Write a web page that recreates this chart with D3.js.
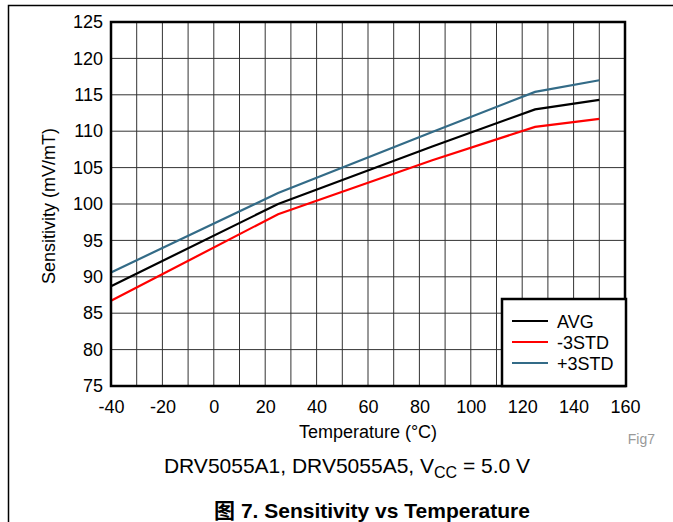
<!DOCTYPE html>
<html><head><meta charset="utf-8">
<script src="https://cdn.jsdelivr.net/npm/d3@7"></script>
<style>body{margin:0;background:#fff}svg{display:block}</style>
</head><body>
<svg id="c" width="673" height="522"></svg>
<script>
const temps = [-40, 25, 85, 125, 150];
const avg = [88.7, 100.0, 107.9, 113.0, 114.3];
const minus3 = [86.7, 98.6, 106.0, 110.6, 111.7];
const plus3 = [90.6, 101.5, 109.9, 115.4, 117.0];
const xTicks = [-40, -20, 0, 20, 40, 60, 80, 100, 120, 140, 160];
const yTicks = [75, 80, 85, 90, 95, 100, 105, 110, 115, 120, 125];
const xGrid = d3.range(-40, 161, 10);
const series = [
  {name: "AVG", values: avg, color: "#000000"},
  {name: "-3STD", values: minus3, color: "#ff0000"},
  {name: "+3STD", values: plus3, color: "#336b87"}
];

const svg = d3.select("#c");
const font = "'Liberation Sans', Arial, sans-serif";
const x = d3.scaleLinear().domain([-40, 160]).range([111, 625]);
const y = d3.scaleLinear().domain([75, 125]).range([386, 22]);

// page frame
svg.append("path").attr("d", "M8.5,522 L8.5,5.5 L673,5.5").attr("fill", "none").attr("stroke", "#000").attr("stroke-width", 1.5);

// grid
svg.append("g").selectAll("line").data(xGrid).join("line")
  .attr("x1", d => x(d)).attr("x2", d => x(d)).attr("y1", y(75)).attr("y2", y(125))
  .attr("stroke", "#333").attr("stroke-width", 1);
svg.append("g").selectAll("line").data(yTicks).join("line")
  .attr("x1", x(-40)).attr("x2", x(160)).attr("y1", d => y(d)).attr("y2", d => y(d))
  .attr("stroke", "#333").attr("stroke-width", 1);

// axes labels via d3 axes
const ax = svg.append("g").attr("transform", `translate(0,${y(75)})`)
  .call(d3.axisBottom(x).tickValues(xTicks).tickSize(0).tickPadding(14).tickFormat(d => String(d)));
ax.select(".domain").remove();
ax.selectAll("text").attr("font-family", font).attr("font-size", 18).attr("fill", "#000");
const ay = svg.append("g").attr("transform", `translate(${x(-40)},0)`)
  .call(d3.axisLeft(y).tickValues(yTicks).tickSize(0).tickPadding(8).tickFormat(d => String(d)));
ay.select(".domain").remove();
ay.selectAll("text").attr("font-family", font).attr("font-size", 18).attr("fill", "#000");

// lines
const line = d3.line().x((d, i) => x(temps[i])).y(d => y(d));
svg.append("g").selectAll("path").data(series).join("path")
  .attr("d", d => line(d.values)).attr("fill", "none")
  .attr("stroke", d => d.color).attr("stroke-width", 2.2);

// plot border
svg.append("rect").attr("x", x(-40)).attr("y", y(125)).attr("width", x(160) - x(-40)).attr("height", y(75) - y(125))
  .attr("fill", "none").attr("stroke", "#000").attr("stroke-width", 2.5);

// legend
const lg = svg.append("g");
lg.append("rect").attr("x", 502).attr("y", 299).attr("width", 124).attr("height", 87)
  .attr("fill", "#fff").attr("stroke", "#000").attr("stroke-width", 2.5);
series.forEach((s, i) => {
  const yy = 321 + i * 21;
  lg.append("line").attr("x1", 512).attr("x2", 548).attr("y1", yy).attr("y2", yy)
    .attr("stroke", s.color).attr("stroke-width", 2.2);
  lg.append("text").attr("x", 557).attr("y", yy + 6.5).text(s.name)
    .attr("font-family", font).attr("font-size", 18).attr("fill", "#000");
});

// axis titles
svg.append("text").attr("x", 368).attr("y", 438).attr("text-anchor", "middle")
  .attr("font-family", font).attr("font-size", 18).text("Temperature (°C)");
svg.append("text").attr("transform", "translate(55,206) rotate(-90)").attr("text-anchor", "middle")
  .attr("font-family", font).attr("font-size", 18).text("Sensitivity (mV/mT)");

svg.append("text").attr("x", 655).attr("y", 444).attr("text-anchor", "end")
  .attr("font-family", font).attr("font-size", 14).attr("fill", "#999").text("Fig7");

const sub = svg.append("text").attr("x", 347).attr("y", 473).attr("text-anchor", "middle")
  .attr("font-family", font).attr("font-size", 21).attr("fill", "#000");
sub.append("tspan").text("DRV5055A1, DRV5055A5, V");
sub.append("tspan").attr("font-size", 16).attr("dy", 5).text("CC");
sub.append("tspan").attr("dy", -5).text(" = 5.0 V");

svg.append("text").attr("x", 372).attr("y", 518).attr("text-anchor", "middle")
  .attr("font-family", "'Liberation Sans', 'Noto Sans CJK SC', sans-serif").attr("font-size", 21).attr("font-weight", "bold")
  .text("图 7. Sensitivity vs Temperature");
</script>
</body></html>
